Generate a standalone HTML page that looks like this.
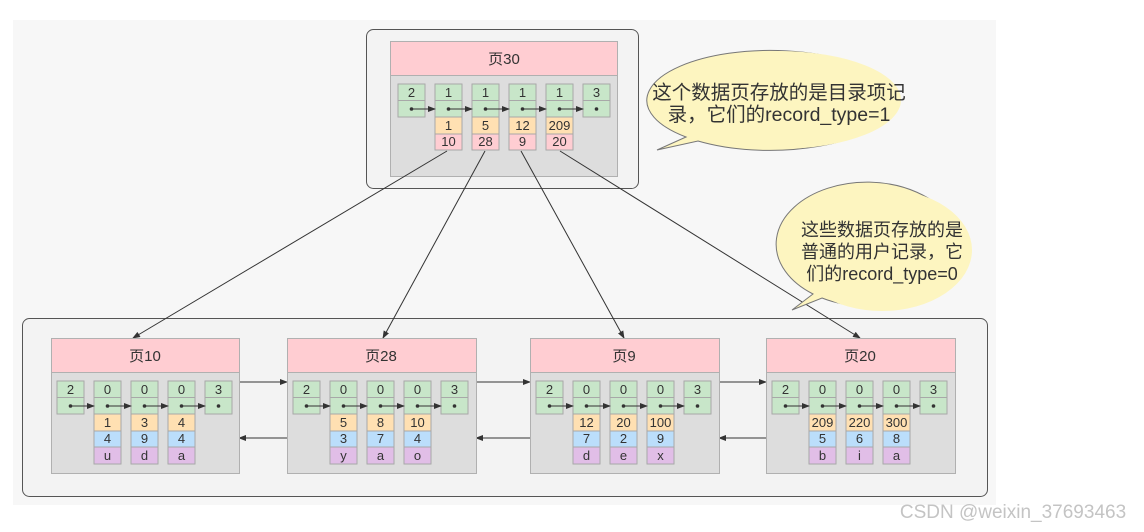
<!DOCTYPE html>
<html><head><meta charset="utf-8"><style>
html,body{margin:0;padding:0;background:#fff;}
svg{display:block;font-family:"Liberation Sans","Noto Sans CJK SC",sans-serif;}
.g{fill:#c8e6c9;stroke:#a8a8a8;stroke-width:1}
.o{fill:#ffe0b2;stroke:#a8a8a8}
.p{fill:#ffcdd2;stroke:#a8a8a8}
.b{fill:#bbdefb;stroke:#a8a8a8}
.u{fill:#e1bee7;stroke:#a8a8a8}
text{font-size:13px;fill:#333;text-anchor:middle}
.h{font-size:15px}
.ln{stroke:#333;stroke-width:1;fill:none}
</style></head><body>
<svg width="1144" height="532" viewBox="0 0 1144 532">
<defs>
<marker id="a" markerWidth="8" markerHeight="6" refX="7" refY="3" orient="auto" markerUnits="userSpaceOnUse"><path d="M0,0 L8,3 L0,6 Z" fill="#333"/></marker>
<g id="gc"><rect class="g" x="0" y="0" width="27" height="33"/><line x1="0" y1="16.5" x2="27" y2="16.5" stroke="#a8a8a8"/><circle cx="13.5" cy="25" r="1.8" fill="#333"/></g>
</defs>
<rect x="13" y="20" width="983" height="485" fill="#f7f7f7"/>
<rect x="366.5" y="29.5" width="272" height="159" rx="7" fill="#f3f3f3" stroke="#555"/>
<rect x="22.5" y="318.5" width="965" height="178" rx="7" fill="#f3f3f3" stroke="#555"/>

<!-- top page -->
<rect x="390.5" y="41.5" width="227" height="34" fill="#ffcdd2" stroke="#b0b0b0"/>
<text class="h" x="504" y="64">页30</text>
<rect x="390.5" y="75.5" width="227" height="101" fill="#dddddd" stroke="#b0b0b0"/>
<g transform="translate(398,84)"><use href="#gc"/><text x="13.5" y="13">2</text></g>
<g transform="translate(435,84)"><use href="#gc"/><text x="13.5" y="13">1</text><rect class="o" x="0" y="33" width="27" height="17"/><text x="13.5" y="46">1</text><rect class="p" x="0" y="50" width="27" height="16"/><text x="13.5" y="62">10</text></g>
<g transform="translate(472,84)"><use href="#gc"/><text x="13.5" y="13">1</text><rect class="o" x="0" y="33" width="27" height="17"/><text x="13.5" y="46">5</text><rect class="p" x="0" y="50" width="27" height="16"/><text x="13.5" y="62">28</text></g>
<g transform="translate(509,84)"><use href="#gc"/><text x="13.5" y="13">1</text><rect class="o" x="0" y="33" width="27" height="17"/><text x="13.5" y="46">12</text><rect class="p" x="0" y="50" width="27" height="16"/><text x="13.5" y="62">9</text></g>
<g transform="translate(546,84)"><use href="#gc"/><text x="13.5" y="13">1</text><rect class="o" x="0" y="33" width="27" height="17"/><text x="13.5" y="46">209</text><rect class="p" x="0" y="50" width="27" height="16"/><text x="13.5" y="62">20</text></g>
<g transform="translate(583,84)"><use href="#gc"/><text x="13.5" y="13">3</text></g>
<g class="ln" marker-end="url(#a)">
<line x1="411.5" y1="109" x2="435" y2="109"/><line x1="448.5" y1="109" x2="472" y2="109"/><line x1="485.5" y1="109" x2="509" y2="109"/><line x1="522.5" y1="109" x2="546" y2="109"/><line x1="559.5" y1="109" x2="583" y2="109"/>
</g>

<!-- connectors -->
<g class="ln" marker-end="url(#a)">
<line x1="447" y1="151" x2="133" y2="338"/>
<line x1="485" y1="151" x2="383" y2="338"/>
<line x1="521" y1="151" x2="624" y2="338"/>
<line x1="560" y1="151" x2="860" y2="338"/>
<line x1="239" y1="382" x2="287" y2="382"/><line x1="287" y1="438" x2="239" y2="438"/>
<line x1="476" y1="382" x2="530" y2="382"/><line x1="530" y1="438" x2="476" y2="438"/>
<line x1="719" y1="382" x2="766" y2="382"/><line x1="766" y1="438" x2="719" y2="438"/>
</g>

<!-- lower pages -->
<g transform="translate(51,0)">
<rect x="0.5" y="338.5" width="188" height="34" fill="#ffcdd2" stroke="#b0b0b0"/><text class="h" x="94" y="361">页10</text>
<rect x="0.5" y="372.5" width="188" height="101" fill="#dddddd" stroke="#b0b0b0"/>
<g transform="translate(6,381)"><use href="#gc"/><text x="13.5" y="13">2</text></g>
<g transform="translate(43,381)"><use href="#gc"/><text x="13.5" y="13">0</text><rect class="o" y="33" width="27" height="17"/><text x="13.5" y="46">1</text><rect class="b" y="50" width="27" height="16"/><text x="13.5" y="62">4</text><rect class="u" y="66" width="27" height="17"/><text x="13.5" y="79">u</text></g>
<g transform="translate(80,381)"><use href="#gc"/><text x="13.5" y="13">0</text><rect class="o" y="33" width="27" height="17"/><text x="13.5" y="46">3</text><rect class="b" y="50" width="27" height="16"/><text x="13.5" y="62">9</text><rect class="u" y="66" width="27" height="17"/><text x="13.5" y="79">d</text></g>
<g transform="translate(117,381)"><use href="#gc"/><text x="13.5" y="13">0</text><rect class="o" y="33" width="27" height="17"/><text x="13.5" y="46">4</text><rect class="b" y="50" width="27" height="16"/><text x="13.5" y="62">4</text><rect class="u" y="66" width="27" height="17"/><text x="13.5" y="79">a</text></g>
<g transform="translate(154,381)"><use href="#gc"/><text x="13.5" y="13">3</text></g>
<g class="ln" marker-end="url(#a)"><line x1="19.5" y1="406" x2="43" y2="406"/><line x1="56.5" y1="406" x2="80" y2="406"/><line x1="93.5" y1="406" x2="117" y2="406"/><line x1="130.5" y1="406" x2="154" y2="406"/></g>
</g>

<g transform="translate(287,0)">
<rect x="0.5" y="338.5" width="189" height="34" fill="#ffcdd2" stroke="#b0b0b0"/><text class="h" x="94" y="361">页28</text>
<rect x="0.5" y="372.5" width="189" height="101" fill="#dddddd" stroke="#b0b0b0"/>
<g transform="translate(6,381)"><use href="#gc"/><text x="13.5" y="13">2</text></g>
<g transform="translate(43,381)"><use href="#gc"/><text x="13.5" y="13">0</text><rect class="o" y="33" width="27" height="17"/><text x="13.5" y="46">5</text><rect class="b" y="50" width="27" height="16"/><text x="13.5" y="62">3</text><rect class="u" y="66" width="27" height="17"/><text x="13.5" y="79">y</text></g>
<g transform="translate(80,381)"><use href="#gc"/><text x="13.5" y="13">0</text><rect class="o" y="33" width="27" height="17"/><text x="13.5" y="46">8</text><rect class="b" y="50" width="27" height="16"/><text x="13.5" y="62">7</text><rect class="u" y="66" width="27" height="17"/><text x="13.5" y="79">a</text></g>
<g transform="translate(117,381)"><use href="#gc"/><text x="13.5" y="13">0</text><rect class="o" y="33" width="27" height="17"/><text x="13.5" y="46">10</text><rect class="b" y="50" width="27" height="16"/><text x="13.5" y="62">4</text><rect class="u" y="66" width="27" height="17"/><text x="13.5" y="79">o</text></g>
<g transform="translate(154,381)"><use href="#gc"/><text x="13.5" y="13">3</text></g>
<g class="ln" marker-end="url(#a)"><line x1="19.5" y1="406" x2="43" y2="406"/><line x1="56.5" y1="406" x2="80" y2="406"/><line x1="93.5" y1="406" x2="117" y2="406"/><line x1="130.5" y1="406" x2="154" y2="406"/></g>
</g>

<g transform="translate(530,0)">
<rect x="0.5" y="338.5" width="189" height="34" fill="#ffcdd2" stroke="#b0b0b0"/><text class="h" x="94" y="361">页9</text>
<rect x="0.5" y="372.5" width="189" height="101" fill="#dddddd" stroke="#b0b0b0"/>
<g transform="translate(6,381)"><use href="#gc"/><text x="13.5" y="13">2</text></g>
<g transform="translate(43,381)"><use href="#gc"/><text x="13.5" y="13">0</text><rect class="o" y="33" width="27" height="17"/><text x="13.5" y="46">12</text><rect class="b" y="50" width="27" height="16"/><text x="13.5" y="62">7</text><rect class="u" y="66" width="27" height="17"/><text x="13.5" y="79">d</text></g>
<g transform="translate(80,381)"><use href="#gc"/><text x="13.5" y="13">0</text><rect class="o" y="33" width="27" height="17"/><text x="13.5" y="46">20</text><rect class="b" y="50" width="27" height="16"/><text x="13.5" y="62">2</text><rect class="u" y="66" width="27" height="17"/><text x="13.5" y="79">e</text></g>
<g transform="translate(117,381)"><use href="#gc"/><text x="13.5" y="13">0</text><rect class="o" y="33" width="27" height="17"/><text x="13.5" y="46">100</text><rect class="b" y="50" width="27" height="16"/><text x="13.5" y="62">9</text><rect class="u" y="66" width="27" height="17"/><text x="13.5" y="79">x</text></g>
<g transform="translate(154,381)"><use href="#gc"/><text x="13.5" y="13">3</text></g>
<g class="ln" marker-end="url(#a)"><line x1="19.5" y1="406" x2="43" y2="406"/><line x1="56.5" y1="406" x2="80" y2="406"/><line x1="93.5" y1="406" x2="117" y2="406"/><line x1="130.5" y1="406" x2="154" y2="406"/></g>
</g>

<g transform="translate(766,0)">
<rect x="0.5" y="338.5" width="189" height="34" fill="#ffcdd2" stroke="#b0b0b0"/><text class="h" x="94" y="361">页20</text>
<rect x="0.5" y="372.5" width="189" height="101" fill="#dddddd" stroke="#b0b0b0"/>
<g transform="translate(6,381)"><use href="#gc"/><text x="13.5" y="13">2</text></g>
<g transform="translate(43,381)"><use href="#gc"/><text x="13.5" y="13">0</text><rect class="o" y="33" width="27" height="17"/><text x="13.5" y="46">209</text><rect class="b" y="50" width="27" height="16"/><text x="13.5" y="62">5</text><rect class="u" y="66" width="27" height="17"/><text x="13.5" y="79">b</text></g>
<g transform="translate(80,381)"><use href="#gc"/><text x="13.5" y="13">0</text><rect class="o" y="33" width="27" height="17"/><text x="13.5" y="46">220</text><rect class="b" y="50" width="27" height="16"/><text x="13.5" y="62">6</text><rect class="u" y="66" width="27" height="17"/><text x="13.5" y="79">i</text></g>
<g transform="translate(117,381)"><use href="#gc"/><text x="13.5" y="13">0</text><rect class="o" y="33" width="27" height="17"/><text x="13.5" y="46">300</text><rect class="b" y="50" width="27" height="16"/><text x="13.5" y="62">8</text><rect class="u" y="66" width="27" height="17"/><text x="13.5" y="79">a</text></g>
<g transform="translate(154,381)"><use href="#gc"/><text x="13.5" y="13">3</text></g>
<g class="ln" marker-end="url(#a)"><line x1="19.5" y1="406" x2="43" y2="406"/><line x1="56.5" y1="406" x2="80" y2="406"/><line x1="93.5" y1="406" x2="117" y2="406"/><line x1="130.5" y1="406" x2="154" y2="406"/></g>
</g>

<!-- bubbles -->
<path d="M686,137 A123,50 0 1 1 698,141 L657,150 Z" fill="#fdf5c0" stroke="#777"/>
<ellipse cx="779" cy="100" rx="122" ry="49" fill="#fdf5c0"/>
<text x="779" y="99" style="font-size:19.5px">这个数据页存放的是目录项记</text>
<text x="779" y="121" style="font-size:19.5px">录，它们的record_type=1</text>

<path d="M813,294 A91,62 0 1 1 822,298 L792,310 Z" fill="#fdf5c0" stroke="#777"/>
<ellipse cx="882" cy="250" rx="90" ry="61" fill="#fdf5c0"/>
<text x="882" y="236" style="font-size:18px">这些数据页存放的是</text>
<text x="882" y="258" style="font-size:18px">普通的用户记录，它</text>
<text x="882" y="280" style="font-size:18px">们的record_type=0</text>

<text x="1013" y="518" style="font-size:19px;fill:#c4c4c4">CSDN @weixin_37693463</text>
</svg>
</body></html>
